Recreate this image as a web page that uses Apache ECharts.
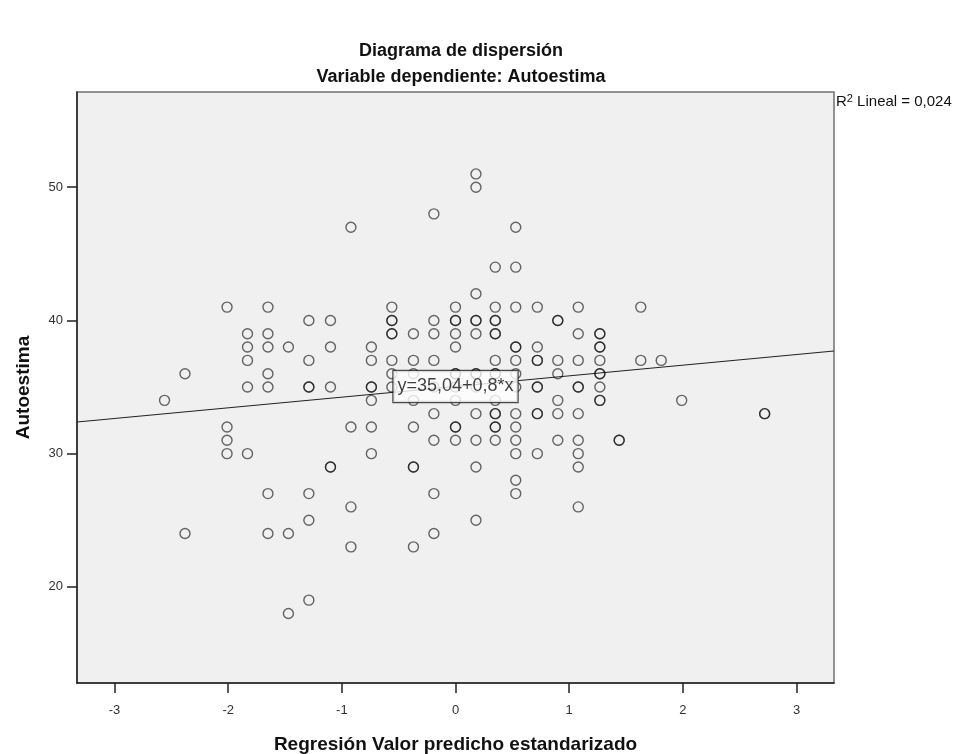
<!DOCTYPE html>
<html>
<head>
<meta charset="utf-8">
<script src="https://cdn.jsdelivr.net/npm/echarts@6/dist/echarts.min.js"></script>
<style>
html,body{margin:0;padding:0;background:#fff;}
#chart{width:966px;height:754px;}
</style>
</head>
<body>
<div id="chart"></div>
<script>
// Standardized predicted values (x columns)
const xCols = [-2.56,-2.38,-2.01,-1.83,-1.65,-1.47,-1.29,-1.10,-0.92,-0.74,-0.56,-0.37,-0.19,0.00,0.18,0.35,0.53,0.72,0.90,1.08,1.27,1.44,1.63,1.81,1.99,2.72];
// Autoestima values for each x column
const yCols = [
  [34],
  [36,24],
  [41,32,31,30],
  [39,38,37,35,30],
  [41,39,38,36,35,27,24],
  [38,24,18],
  [40,37,35,35,27,25,19],
  [40,38,35,29,29],
  [47,32,26,23],
  [38,37,35,35,34,32,30],
  [41,40,40,39,39,37,36,35],
  [39,37,36,34,32,29,29,23],
  [48,40,39,37,35,33,31,27,24],
  [41,40,40,39,38,36,36,35,34,32,32,31],
  [51,50,42,40,40,39,36,36,35,33,31,29,25],
  [44,41,40,40,39,39,37,36,36,34,33,33,32,32,31],
  [47,44,41,38,38,37,36,35,33,32,31,30,28,27],
  [41,38,37,37,35,35,33,33,30],
  [40,40,37,36,34,33,31],
  [41,39,37,35,35,33,31,30,29,26],
  [39,39,38,38,37,36,36,35,34,34],
  [31,31],
  [41,37],
  [37],
  [34],
  [33,33]
];
const xTicks = [-3,-2,-1,0,1,2,3];
const yTicks = [20,30,40,50];
const xRange = [-3.33, 3.33];
const yRange = [12.78, 57.15];
const intercept = [35.04];
const slope = [0.8];
const rSquared = ['0,024'];

const points = [];
xCols.forEach((x, i) => yCols[i].forEach(y => points.push([x, y])));
const fitLine = xRange.map(x => [x, intercept[0] + slope[0] * x]);

const chart = echarts.init(document.getElementById('chart'), null, {renderer: 'canvas'});
const fontFam = '"Liberation Sans", Arial, sans-serif';
chart.setOption({
  animation: false,
  backgroundColor: '#fff',
  title: [
    {text: 'Diagrama de dispersión', left: 456, top: 37, textAlign: 'center',
     textStyle: {fontFamily: fontFam, fontSize: 18, fontWeight: 'bold', color: '#111'}},
    {text: 'Variable dependiente: Autoestima', left: 456, top: 63, textAlign: 'center',
     textStyle: {fontFamily: fontFam, fontSize: 18, fontWeight: 'bold', color: '#111'}}
  ],
  grid: {left: 77, top: 92, width: 757, height: 591, show: true, outerBoundsMode: 'none',
         containLabel: false,
         backgroundColor: '#F0F0F0', borderColor: '#707070', borderWidth: 1.5},
  xAxis: {
    type: 'value', min: xRange[0], max: xRange[1],
    name: 'Regresión Valor predicho estandarizado', nameLocation: 'middle', nameGap: 52,
    nameTextStyle: {fontFamily: fontFam, fontSize: 19, fontWeight: 'bold', color: '#111'},
    axisLine: {show: true, onZero: false, lineStyle: {color: '#222', width: 1.5}},
    axisTick: {show: true, inside: false, length: 10, customValues: xTicks, lineStyle: {color: '#222', width: 1.5}},
    axisLabel: {customValues: xTicks, margin: 21, fontFamily: fontFam, fontSize: 13, color: '#333',
                formatter: v => String(v)},
    splitLine: {show: false}
  },
  yAxis: {
    type: 'value', min: yRange[0], max: yRange[1],
    name: 'Autoestima', nameLocation: 'middle', nameGap: 44, nameRotate: 90,
    nameTextStyle: {fontFamily: fontFam, fontSize: 19, fontWeight: 'bold', color: '#111'},
    axisLine: {show: true, onZero: false, lineStyle: {color: '#222', width: 1.5}},
    axisTick: {show: true, inside: false, length: 10, customValues: yTicks, lineStyle: {color: '#222', width: 1.5}},
    axisLabel: {customValues: yTicks, margin: 14, fontFamily: fontFam, fontSize: 13, color: '#333'},
    splitLine: {show: false}
  },
  graphic: [{
    type: 'text', left: 836, top: 93,
    style: {
      text: 'R{sup|2} Lineal = {n|' + rSquared[0] + '}',
      fontFamily: fontFam, fontSize: 15, fill: '#111',
      rich: {
        sup: {fontSize: 11, verticalAlign: 'top', padding: [0, 0, 7, 0], fontFamily: fontFam},
        n: {fontSize: 15, fontFamily: fontFam}
      }
    }
  }],
  series: [
    {
      type: 'line', data: fitLine, symbol: 'none', silent: true, z: 2,
      lineStyle: {color: '#222', width: 1.2}
    },
    {
      type: 'scatter', data: points, symbol: 'circle', symbolSize: 10, z: 3,
      itemStyle: {color: 'rgba(0,0,0,0)', borderColor: 'rgba(15,15,15,0.78)', borderWidth: 1.4}
    },
    {
      type: 'scatter', data: [[0, intercept[0]]], symbolSize: 0, z: 10, silent: true,
      label: {
        show: true, position: 'inside',
        formatter: 'y=' + String(intercept[0]).replace('.', ',') + '+' + String(slope[0]).replace('.', ',') + '*x',
        fontFamily: fontFam, fontSize: 18, color: '#111',
        backgroundColor: '#fff', borderColor: '#222', borderWidth: 1.2,
        padding: [7, 4, 6, 4]
      }
    }
  ]
});
</script>
</body>
</html>
